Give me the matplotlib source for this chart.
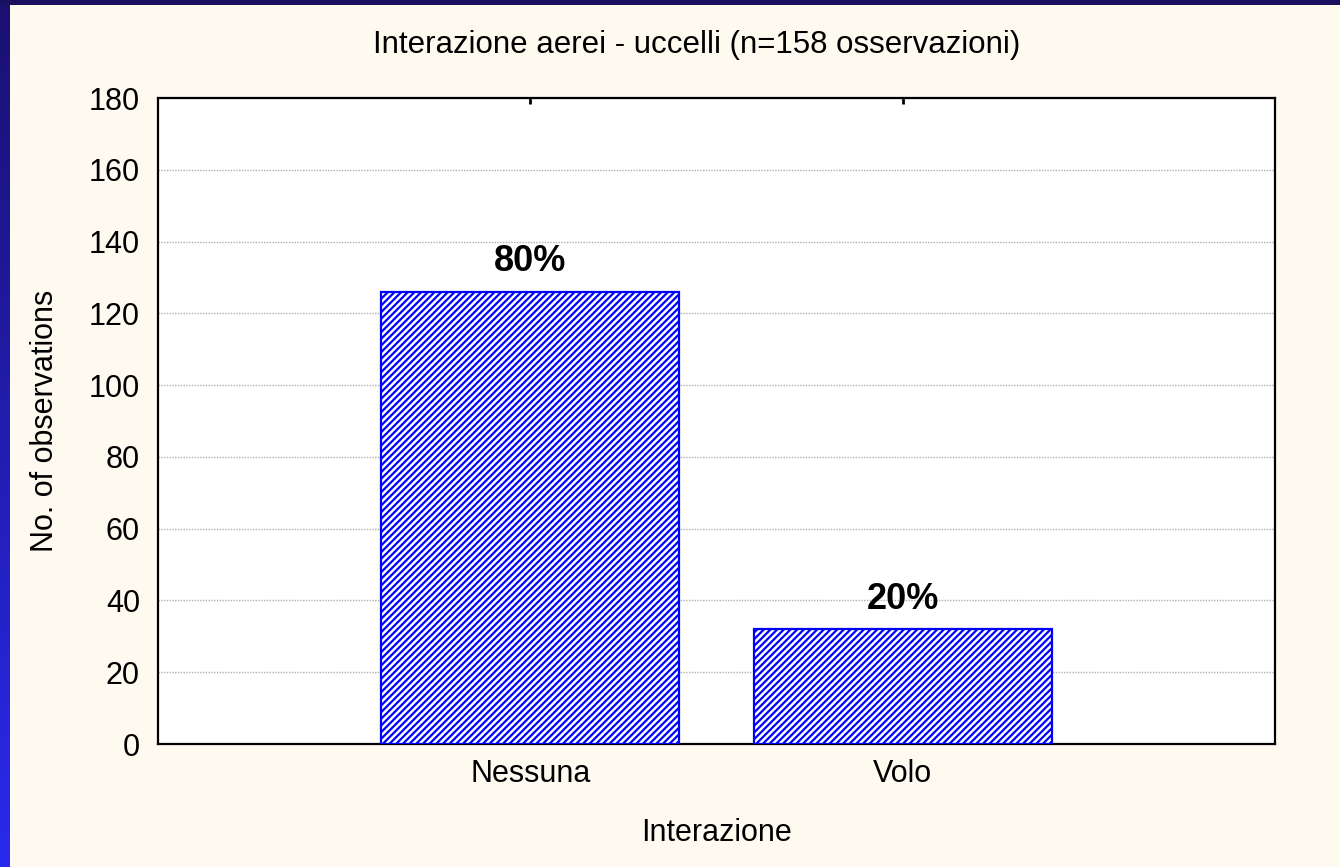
import numpy as np
import matplotlib
matplotlib.use("Agg")
import matplotlib.pyplot as plt
from matplotlib.colors import LinearSegmentedColormap

categories = ["Nessuna", "Volo"]
counts = [126, 32]
pct_labels = ["80%", "20%"]
yticks = [0, 20, 40, 60, 80, 100, 120, 140, 160, 180]

plt.rcParams['font.family'] = ['Liberation Sans', 'DejaVu Sans']
plt.rcParams['hatch.linewidth'] = 1.6
plt.rcParams['hatch.color'] = '#5c5cff'

W, H = 1340, 867
fig = plt.figure(figsize=(W/100, H/100), dpi=100)
fig.patch.set_facecolor('#fffaf0')

# left gradient strip
bax = fig.add_axes([0, 0, 10/W, 1])
grad = np.linspace(0, 1, 256).reshape(-1, 1)
cmap = LinearSegmentedColormap.from_list('b', ['#2a2aee', '#1a1070'])
bax.imshow(grad, aspect='auto', cmap=cmap, origin='lower', extent=[0, 1, 0, 1])
bax.axis('off')
tax = fig.add_axes([0, 1 - 5/H, 1, 5/H])
tax.set_facecolor('#1a1060')
tax.set_xticks([]); tax.set_yticks([])
for s in tax.spines.values():
    s.set_visible(False)

ax = fig.add_axes([158/W, 1 - 744/H, (1275-158)/W, (744-98)/H])
ax.set_facecolor('white')
x = np.arange(len(categories))
bars = ax.bar(x, counts, width=0.8, facecolor='white', edgecolor='#0000ff',
              hatch='/////', linewidth=1.6, zorder=3)
for xi, c, lab in zip(x, counts, pct_labels):
    ax.text(xi, c + 3.5, lab, ha='center', va='bottom', fontsize=26, fontweight='bold')

ax.set_xlim(-1, 2)
ax.set_ylim(0, 180)
ax.set_yticks(yticks)
ax.set_yticklabels([str(v) for v in yticks], fontsize=22)
ax.set_xticks(x)
ax.set_xticklabels(categories, fontsize=22)
ax.tick_params(axis='y', length=0, pad=13)
ax.tick_params(axis='x', length=0, pad=11)
ax.tick_params(axis='x', which='both', top=True, direction='in', length=4, width=2, labeltop=False)
ax.grid(axis='y', linestyle=(0, (1, 1)), color='#b0b0b0', linewidth=1, zorder=0)
for s in ax.spines.values():
    s.set_linewidth(1.6)
    s.set_color('black')

ax.set_ylabel("No. of observations", fontsize=22)
ax.yaxis.set_label_coords(-(158-45)/(1275-158), 0.5)
ax.yaxis.label.set_va('center')
ax.set_xlabel("Interazione", fontsize=22)
ax.xaxis.set_label_coords(0.5, -(833-744)/(744-98))
ax.xaxis.label.set_va('center')
fig.text(697/W, 1 - 45/H, "Interazione aerei - uccelli (n=158 osservazioni)",
         ha='center', va='center', fontsize=22.5)

fig.savefig("out.png", dpi=100, facecolor=fig.get_facecolor())
